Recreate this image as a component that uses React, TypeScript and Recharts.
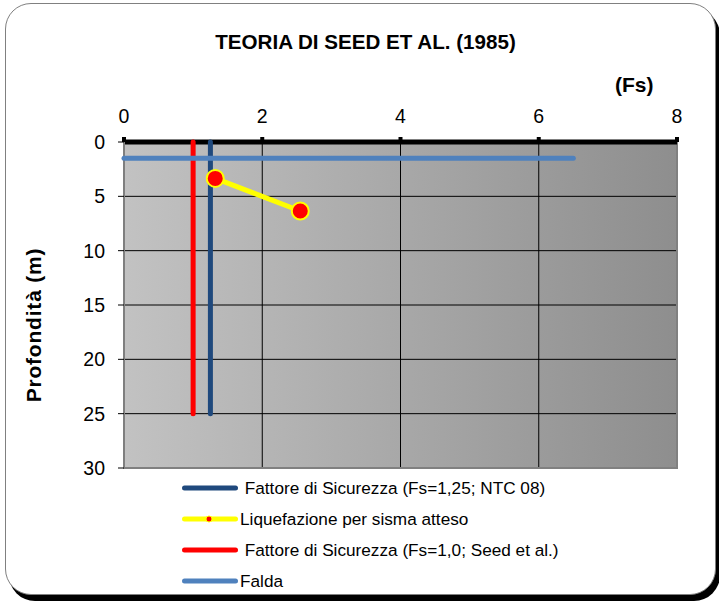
import React from "react";
import {
  ScatterChart,
  Scatter,
  XAxis,
  YAxis,
  CartesianGrid,
  ReferenceArea,
} from "recharts";

// valori (Fs sull'asse x, profondità in m sull'asse y)
const fsTicks = [0, 2, 4, 6, 8];
const depthTicks = [0, 5, 10, 15, 20, 25, 30];

const fsNtc = [1.25, 1.25];
const fsNtcDepth = [0, 25];

const fsSeed = [1.0, 1.0];
const fsSeedDepth = [0, 25];

const faldaFs = [0, 6.5];
const faldaDepth = [1.5, 1.5];

const liqFs = [1.32, 2.55];
const liqDepth = [3.35, 6.35];

const toPoints = (xs: number[], ys: number[]) =>
  xs.map((fs, i) => ({ fs, depth: ys[i] }));

type Serie = {
  name: string;
  color: string;
  marker?: boolean;
  lead?: boolean;
};

const legend: Serie[] = [
  { name: "Fattore di Sicurezza (Fs=1,25; NTC 08)", color: "#1f497d", lead: true },
  { name: "Liquefazione per sisma atteso", color: "#ffff00", marker: true },
  { name: "Fattore di Sicurezza (Fs=1,0; Seed et al.)", color: "#ff0000", lead: true },
  { name: "Falda", color: "#4f81bd" },
];

const FONT = "'Liberation Sans', Arial, sans-serif";

const noShape = () => <g />;

const XTick = (props: any) => (
  <text
    x={props.x}
    y={props.y - 14}
    textAnchor="middle"
    fontSize={19.5}
    fontFamily={FONT}
    fill="#000"
  >
    {props.payload.value}
  </text>
);

const YTick = (props: any) => (
  <text
    x={props.x}
    y={props.y}
    dy="0.36em"
    textAnchor="end"
    fontSize={19.5}
    fontFamily={FONT}
    fill="#000"
  >
    {props.payload.value}
  </text>
);

export default function App() {
  return (
    <div
      style={{
        position: "relative",
        width: 719,
        height: 605,
        background: "#fff",
        fontFamily: FONT,
        overflow: "hidden",
      }}
    >
      <style>{`body{margin:0}`}</style>

      {/* cornice arrotondata con ombra */}
      <div
        style={{
          position: "absolute",
          left: 5,
          top: 3,
          width: 709,
          height: 590,
          border: "1px solid #808080",
          borderRadius: 26,
          boxShadow: "4px 6px 0 0 #000",
          background: "#fff",
        }}
      />

      <div
        style={{
          position: "absolute",
          left: 6,
          top: 30,
          width: 719,
          textAlign: "center",
          fontSize: 20.6,
          fontWeight: "bold",
          lineHeight: "24px",
          whiteSpace: "nowrap",
        }}
      >
        TEORIA DI SEED ET AL. (1985)
      </div>

      <div
        style={{
          position: "absolute",
          left: 615,
          top: 73,
          fontSize: 21,
          fontWeight: "bold",
          lineHeight: "24px",
        }}
      >
        (Fs)
      </div>

      <div style={{ position: "absolute", left: 0, top: 0 }}>
        <ScatterChart
          width={719}
          height={605}
          margin={{ top: 112, right: 42, bottom: 137, left: 64 }}
        >
          <defs>
            <linearGradient id="bgGrad" x1="0" y1="0" x2="1" y2="0">
              <stop offset="0%" stopColor="#c2c2c2" />
              <stop offset="100%" stopColor="#8e8e8e" />
            </linearGradient>
          </defs>
          <CartesianGrid
            stroke="#000"
            strokeWidth={1}
            fill="url(#bgGrad)"
            fillOpacity={1}
          />
          <ReferenceArea
            x1={0}
            x2={8}
            y1={0}
            y2={30}
            fill="none"
            stroke="#808080"
            strokeWidth={2}
          />
          <XAxis
            type="number"
            dataKey="fs"
            orientation="top"
            domain={[0, 8]}
            ticks={fsTicks}
            height={30}
            tickSize={5}
            tickMargin={0}
            axisLine={{ stroke: "#000", strokeWidth: 5 }}
            tickLine={{ stroke: "#000", strokeWidth: 4 }}
            tick={XTick}
          />
          <YAxis
            type="number"
            dataKey="depth"
            reversed
            domain={[0, 30]}
            ticks={depthTicks}
            width={60}
            tickSize={6}
            tickMargin={13}
            axisLine={{ stroke: "#7f7f7f", strokeWidth: 2 }}
            tickLine={{ stroke: "#000", strokeWidth: 1 }}
            tick={YTick}
            label={{
              value: "Profondità (m)",
              angle: -90,
              position: "insideLeft",
              offset: -30,
              style: {
                fontSize: 21,
                fontWeight: "bold",
                fontFamily: FONT,
                fill: "#000",
                textAnchor: "middle",
                letterSpacing: 0.8,
              },
              dy: 20,
            }}
          />
          <Scatter
            name="Fs=1,0"
            data={toPoints(fsSeed, fsSeedDepth)}
            fill="#ff0000"
            line={{ stroke: "#ff0000", strokeWidth: 5, strokeLinecap: "round" }}
            shape={noShape}
            isAnimationActive={false}
          />
          <Scatter
            name="Fs=1,25"
            data={toPoints(fsNtc, fsNtcDepth)}
            fill="#1f497d"
            line={{ stroke: "#1f497d", strokeWidth: 5, strokeLinecap: "round" }}
            shape={noShape}
            isAnimationActive={false}
          />
          <Scatter
            name="Falda"
            data={toPoints(faldaFs, faldaDepth)}
            fill="#4f81bd"
            line={{ stroke: "#4f81bd", strokeWidth: 5, strokeLinecap: "round" }}
            shape={noShape}
            isAnimationActive={false}
          />
          <Scatter
            name="Liquefazione"
            data={toPoints(liqFs, liqDepth)}
            fill="#ff0000"
            line={{ stroke: "#ffff00", strokeWidth: 5, strokeLinecap: "round" }}
            shape={(p: any) => (
              <circle
                cx={p.cx}
                cy={p.cy}
                r={8.5}
                fill="#ff0000"
                stroke="#ffff00"
                strokeWidth={2}
              />
            )}
            isAnimationActive={false}
          />
        </ScatterChart>
      </div>

      {/* legenda */}
      {legend.map((s, i) => (
        <div
          key={s.name}
          style={{
            position: "absolute",
            left: 180,
            top: 478 + i * 31,
            height: 20,
            display: "flex",
            alignItems: "center",
            fontSize: 17.2,
            color: "#000",
            whiteSpace: "pre",
          }}
        >
          <svg width={60} height={20} style={{ display: "block" }}>
            <line
              x1={4.5}
              x2={55.5}
              y1={10}
              y2={10}
              stroke={s.color}
              strokeWidth={5}
              strokeLinecap="round"
            />
            {s.marker && (
              <circle cx={29} cy={10} r={3} fill="#ff0000" stroke="#ffff00" strokeWidth={1} />
            )}
          </svg>
          <span>{(s.lead ? " " : "") + s.name}</span>
        </div>
      ))}
    </div>
  );
}
